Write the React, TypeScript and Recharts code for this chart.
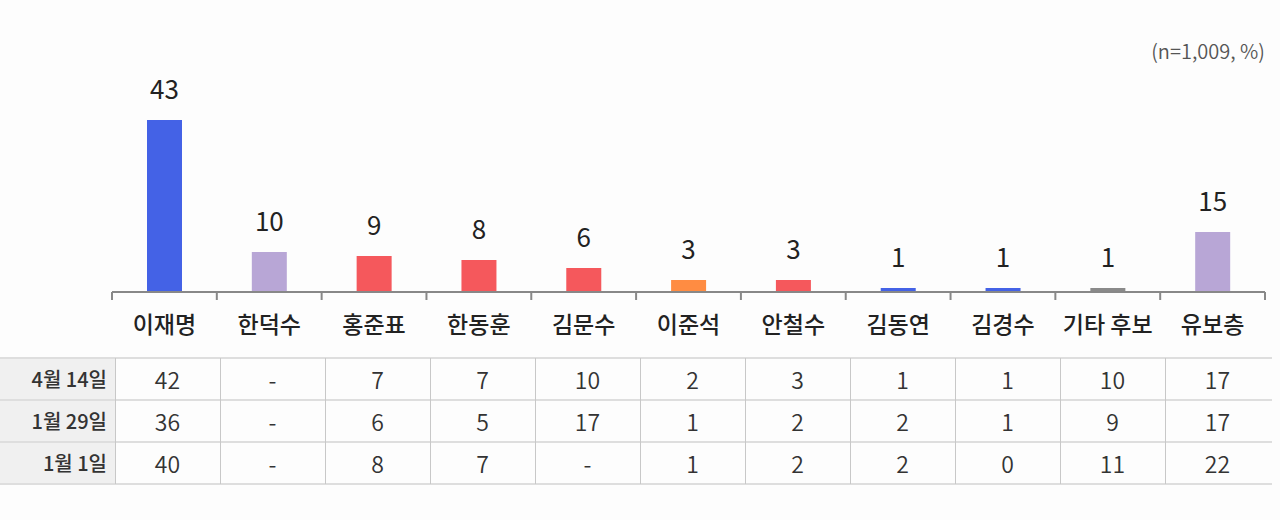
import React from 'react';
import { BarChart, Bar, XAxis, YAxis, Cell, LabelList } from 'recharts';

const candidates = ['이재명', '한덕수', '홍준표', '한동훈', '김문수', '이준석', '안철수', '김동연', '김경수', '기타 후보', '유보층'];
const current = [43, 10, 9, 8, 6, 3, 3, 1, 1, 1, 15];
const barColors = ['#4462e6', '#b8a6d6', '#f5585c', '#f5585c', '#f5585c', '#ff8c42', '#f5585c', '#4462e6', '#4462e6', '#8a8a8a', '#b8a6d6'];

const pastLabels = ['4월 14일', '1월 29일', '1월 1일'];
const apr14 = [42, null, 7, 7, 10, 2, 3, 1, 1, 10, 17];
const jan29 = [36, null, 6, 5, 17, 1, 2, 2, 1, 9, 17];
const jan1 = [40, null, 8, 7, null, 1, 2, 2, 0, 11, 22];
const pastRows = [apr14, jan29, jan1];

const FONT = '"Noto Sans CJK KR", "Noto Sans", sans-serif';
const W = 1280;
const PLOT_LEFT = 112;
const PLOT_RIGHT = 15;
const BAND = (W - PLOT_LEFT - PLOT_RIGHT) / candidates.length;

const chartData = candidates.map((name, i) => ({ name, value: current[i] }));

const CategoryTick = (props: any) => {
  const { x, y, payload, index } = props;
  return (
    <g>
      <line x1={x - BAND / 2} x2={x - BAND / 2} y1={y} y2={y + 8} stroke="#888" strokeWidth={2} />
      {index === candidates.length - 1 && (
        <line x1={x + BAND / 2} x2={x + BAND / 2} y1={y} y2={y + 8} stroke="#888" strokeWidth={2} />
      )}
      <text x={x} y={y + 41} textAnchor="middle" fontSize={23} fontWeight={500} fill="#222" fontFamily={FONT}>
        {payload.value}
      </text>
    </g>
  );
};

const TABLE_TOP = 358;
const ROW_H = 42;
const HEAD_W = 115;
const COL_W = 105;

export default function App() {
  return (
    <div style={{ position: 'absolute', left: 0, top: 0, width: W, height: 520, background: '#fdfdfd', fontFamily: FONT, overflow: 'hidden' }}>
      <div style={{ position: 'absolute', right: 15, top: 36, fontSize: 20, fontWeight: 350, color: '#555' }}>(n=1,009, %)</div>
      <BarChart width={W} height={360} data={chartData} margin={{ top: 92, right: PLOT_RIGHT, bottom: 8, left: PLOT_LEFT }}>
        <YAxis hide domain={[0, 50]} />
        <XAxis
          dataKey="name"
          height={60}
          interval={0}
          tickSize={0}
          tickMargin={0}
          axisLine={{ stroke: '#888', strokeWidth: 2 }}
          tickLine={false}
          tick={<CategoryTick />}
        />
        <Bar dataKey="value" barSize={35} isAnimationActive={false}>
          {chartData.map((d, i) => (
            <Cell key={d.name} fill={barColors[i]} />
          ))}
          <LabelList dataKey="value" position="top" offset={21} fontSize={26} fontWeight={400} fill="#222" fontFamily={FONT} />
        </Bar>
      </BarChart>

      {/* comparison table */}
      <div style={{ position: 'absolute', left: 0, top: TABLE_TOP, width: HEAD_W, height: ROW_H * 3, background: '#f0f0f0' }} />
      {[0, 1, 2, 3].map((r) => (
        <div key={'h' + r} style={{ position: 'absolute', left: 0, top: TABLE_TOP + r * ROW_H - 1, width: HEAD_W + COL_W * candidates.length + 2, height: 2, background: '#dedede' }} />
      ))}
      {candidates.map((c, i) => (
        <div key={'v' + c} style={{ position: 'absolute', left: HEAD_W + i * COL_W, top: TABLE_TOP, width: 1, height: ROW_H * 3, background: '#c8c8c8' }} />
      ))}
      {pastLabels.map((label, r) => (
        <div key={label} style={{ position: 'absolute', left: 0, top: TABLE_TOP + r * ROW_H, width: HEAD_W - 8, height: ROW_H, lineHeight: ROW_H + 'px', textAlign: 'right', fontSize: 20, fontWeight: 500, color: '#333' }}>
          {label}
        </div>
      ))}
      {pastRows.map((row, r) =>
        row.map((v, i) => (
          <div key={r + '-' + i} style={{ position: 'absolute', left: HEAD_W + i * COL_W, top: TABLE_TOP + r * ROW_H, width: COL_W, height: ROW_H, lineHeight: ROW_H + 'px', textAlign: 'center', fontSize: 23, fontWeight: 350, color: '#333' }}>
            {v === null ? '-' : v}
          </div>
        ))
      )}
    </div>
  );
}
